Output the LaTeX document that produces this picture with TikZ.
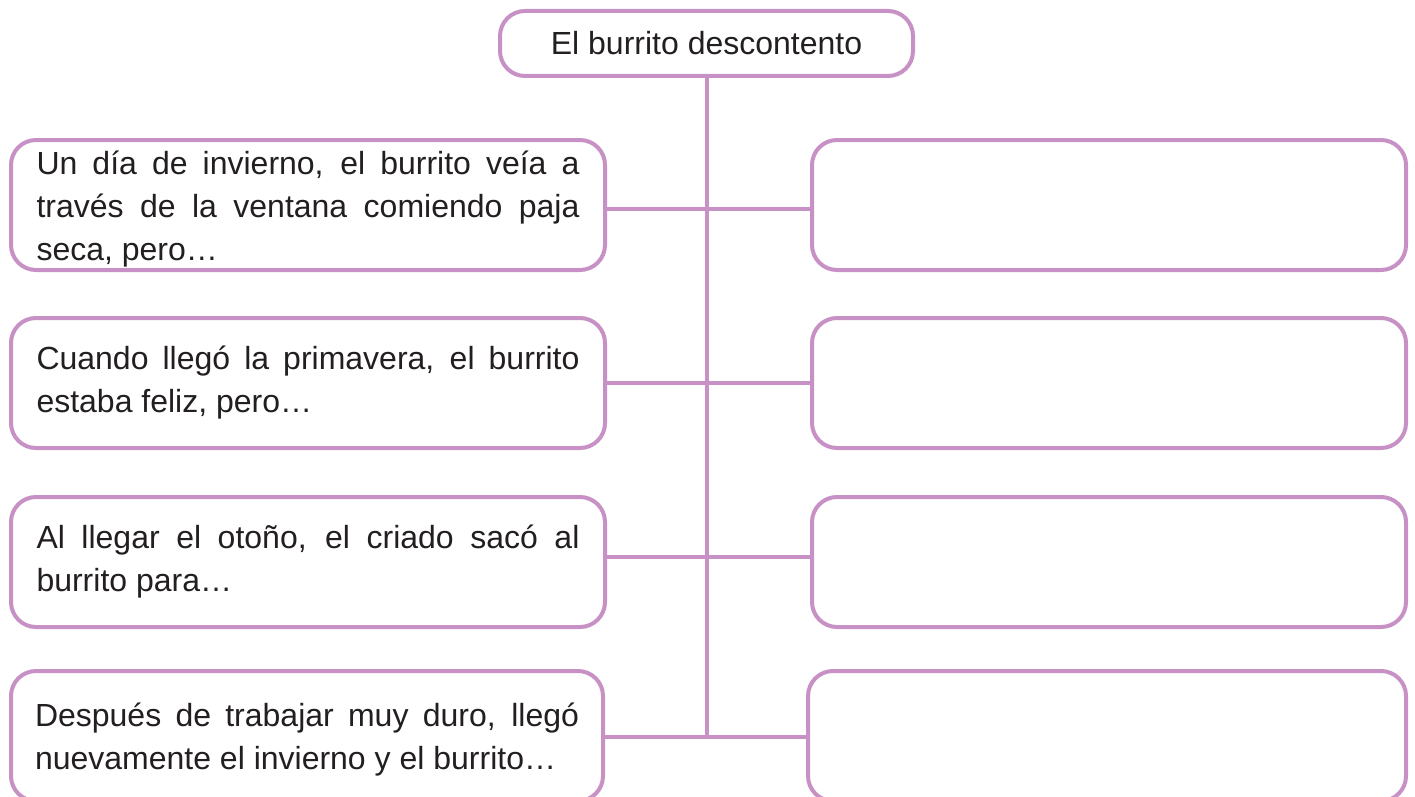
\documentclass[tikz,border=0pt]{standalone}
\usepackage{fontspec}
\setmainfont{Liberation Sans}
\definecolor{boxline}{RGB}{200,145,197}
\definecolor{txt}{RGB}{35,31,32}
\newcommand{\lowertext}{\par\vspace*{-8pt}}
\begin{document}
\begin{tikzpicture}[x=1pt,y=1pt,
  box/.style={draw=boxline, line width=4pt, rounded corners=25pt, fill=white,
    minimum height=130pt, inner ysep=0pt, text=txt},
  leftbox/.style={box, text width=543pt, inner xsep=25.5pt, align=justify,
    font=\fontsize{32}{43}\selectfont},
  rightbox/.style={box, minimum width=594pt},
  titlebox/.style={box, minimum width=413pt, minimum height=65pt,
    font=\fontsize{32}{38}\selectfont},
  conn/.style={draw=boxline, line width=4pt}]
\useasboundingbox (0,0) rectangle (1415,-797);
\hyphenpenalty=10000
\node[titlebox] (title) at (706.5,-43.5) {El burrito descontento};
\node[leftbox] (l1) at (308,-205) {Un día de invierno, el burrito veía a\linebreak través de la ventana comiendo paja\linebreak seca, pero…\lowertext};
\node[leftbox] (l2) at (308,-383) {Cuando llegó la primavera, el burrito\linebreak estaba feliz, pero…};
\node[leftbox] (l3) at (308,-562) {Al llegar el otoño, el criado sacó al\linebreak burrito para…};
\node[leftbox, text width=544pt, inner xsep=24pt] (l4) at (307,-736) {Después de trabajar muy duro, llegó\linebreak nuevamente el invierno y el burrito…\lowertext};
\node[rightbox] (r1) at (1109,-205) {};
\node[rightbox] (r2) at (1109,-383) {};
\node[rightbox] (r3) at (1109,-562) {};
\node[rightbox, minimum width=598pt] (r4) at (1107,-736) {};
\coordinate (trunkend) at ([yshift=-1pt]title.south |- l4.east);
\draw[conn] (title.south) -- (trunkend);
\draw[conn] ([yshift=-4pt]l1.east) -- ([yshift=-4pt]r1.west);
\draw[conn] (l2.east) -- (r2.west);
\draw[conn] ([yshift=5pt]l3.east) -- ([yshift=5pt]r3.west);
\draw[conn] ([yshift=-1pt]l4.east) -- ([yshift=-1pt]r4.west);
\end{tikzpicture}
\end{document}
